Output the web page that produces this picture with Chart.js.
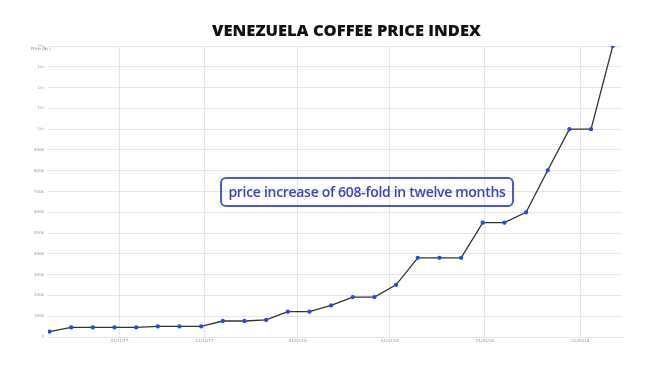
<!DOCTYPE html>
<html>
<head>
<meta charset="utf-8">
<script src="https://cdn.jsdelivr.net/npm/chart.js@4"></script>
<style>
  body { margin: 0; background: #fff; }
  #wrap { position: relative; width: 659px; height: 371px; }
  #title { position: absolute; left: 0; width: 693px; top: 18px; text-align: center;
    font-family: "Open Sans", sans-serif; font-weight: 800; font-size: 16.5px; color: #111; }
  #ylab { position: absolute; left: 31px; top: 46px; font-family: "DejaVu Sans", sans-serif;
    font-size: 4px; color: #888; }
  #note { position: absolute; left: 220px; top: 177px; width: 290px; height: 26px;
    border: 2px solid #4a5ad6; border-radius: 6px; color: #3545cc; box-sizing: content-box;
    font-family: "Open Sans", sans-serif; font-weight: 600; font-size: 14px; letter-spacing: -0.3px;
    line-height: 26px; text-align: center; }
</style>
</head>
<body>
<div id="wrap">
  <canvas id="myChart" width="659" height="371"></canvas>
  <div id="title">VENEZUELA COFFEE PRICE INDEX</div>
  <div id="ylab">Price (Bs.)</div>
  <div id="note">price increase of 608-fold in twelve months</div>
</div>
<script>
// weekly observations, days since first reading
let days = [0, 7, 14, 21, 28, 35, 42, 49, 56, 63, 70, 77, 84, 91, 98, 105, 112, 119, 126, 133, 140, 147, 154, 161, 168, 175, 182]
let prices = [26000, 46000, 46000, 46000, 46000, 51000, 51000, 51000, 77000, 77000, 82000, 122000, 122000, 152000,
    192000, 192000, 251000, 381000, 381000, 381000, 550000, 550000, 600000, 802000, 1000000, 1000000, 1400000]
let xTickDays = [22.6, 50.1, 80.2, 110, 140.7, 171.5]
let xTickLabels = ['01/11/17', '01/12/17', '01/01/18', '01/02/18', '01/03/18', '01/04/18']
let yTickLabels = ['0', '100k', '200k', '300k', '400k', '500k', '600k', '700k', '800k', '900k', '1m', '1m', '1m', '1m', '1m']

var ctx = document.getElementById('myChart').getContext('2d');
var chart = new Chart(ctx, {
    type: 'line',
    data: {
        datasets: [{
            data: days.map((d, i) => ({x: d, y: prices[i]})),
            borderColor: '#333',
            borderWidth: 1.3,
            pointBackgroundColor: '#2447ff',
            pointBorderColor: '#2447ff',
            pointRadius: 1.5,
            tension: 0
        }]
    },
    options: {
        responsive: false,
        animation: false,
        layout: {padding: {top: 46, right: 37, left: 0, bottom: 0}},
        plugins: {legend: {display: false}, tooltip: {enabled: false}},
        scales: {
            x: {
                type: 'linear', min: -0.5, max: 185,
                afterBuildTicks: axis => { axis.ticks = xTickDays.map(v => ({value: v})) },
                afterFit: axis => { axis.height = 34 },
                ticks: {
                    callback: (v, i) => xTickLabels[i],
                    font: {size: 4, family: 'DejaVu Sans'}, color: '#999', maxRotation: 0, padding: 2
                },
                grid: {color: '#e6e6e6', drawTicks: false},
                border: {color: '#e6e6e6'}
            },
            y: {
                min: 0, max: 1400000,
                ticks: {
                    stepSize: 100000,
                    callback: (v, i) => yTickLabels[i],
                    font: {size: 4, family: 'DejaVu Sans'}, color: '#999', padding: 4
                },
                afterFit: axis => { axis.width = 48 },
                grid: {color: '#e6e6e6', drawTicks: false},
                border: {display: false}
            }
        }
    }
})
</script>
</body>
</html>
